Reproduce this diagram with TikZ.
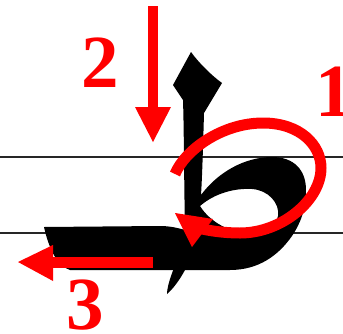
\documentclass[tikz,border=0pt]{standalone}
\usepackage{fontspec}
\setmainfont{Liberation Serif}
\definecolor{strokered}{RGB}{255,0,0}
\tikzset{
  guide/.style={draw=black!85, line width=1.1pt},
  glyph/.style={fill=black, even odd rule},
  redfill/.style={fill=strokered},
  redloop/.style={draw=strokered, line width=11pt},
  digit/.style={text=strokered, inner sep=0pt, font=\fontsize{75}{75}\selectfont\bfseries}
}
\begin{document}
\begin{tikzpicture}[x=1pt,y=-1pt]
\useasboundingbox (0,0) rectangle (343,333);
\clip (0,0) rectangle (343,333);
\fill[white] (0,0) rectangle (343,333);
% guide lines
\coordinate (l1a) at (0,157); \coordinate (l1b) at (343,157);
\coordinate (l2a) at (0,233); \coordinate (l2b) at (343,233);
\draw[guide] (l1a) -- (l1b);
\draw[guide] (l2a) -- (l2b);
% letter
\path[glyph]
 (191,52) .. controls (199,63) and (211,75) .. (222,83)
 -- (204,113)
 .. controls (203,150) and (202,180) .. (201,195)
 .. controls (218,172) and (245,157) .. (272,157)
 .. controls (294,157) and (306,170) .. (306,190)
 .. controls (306,210) and (300,224) .. (292,236)
 .. controls (278,256) and (258,270) .. (230,270)
 -- (70,270)
 .. controls (56,266) and (48,245) .. (44,227)
 -- (160,226)
 .. controls (170,226) and (178,228) .. (185,230)
 .. controls (184,180) and (184,130) .. (183,100)
 -- (173,85) -- cycle
 (200,206) .. controls (215,193) and (235,188) .. (252,189)
 .. controls (268,190) and (280,203) .. (278,216)
 .. controls (276,228) and (262,233) .. (250,233)
 .. controls (230,233) and (210,222) .. (200,206) -- cycle;
\fill (174,268) -- (186,268) .. controls (180,280) and (172,290) .. (167,294)
 .. controls (167,288) and (170,278) .. cycle;
% stroke 2
\fill[redfill] (148,6) rectangle (158,108);
\fill[redfill] (135,107) -- (171,107) -- (153,142) -- cycle;
% stroke 3
\fill[redfill] (53,257) rectangle (153,268);
\fill[redfill] (18,262) -- (53,245) -- (53,281) -- cycle;
% stroke 1
\draw[redloop] (175,174) .. controls (185,150) and (222,123) .. (263,123)
 .. controls (300,123) and (321,145) .. (321,168)
 .. controls (321,200) and (282,233) .. (240,233)
 .. controls (225,233) and (210,231) .. (198,228);
\fill[redfill] (175,213) -- (213,219) -- (192,247) -- cycle;
% labels
\node[digit] (n2) at (100,63) {2};
\node[digit] (n1) at (334,92) {1};
\node[digit] (n3) at (85,305) {3};
\end{tikzpicture}
\end{document}
